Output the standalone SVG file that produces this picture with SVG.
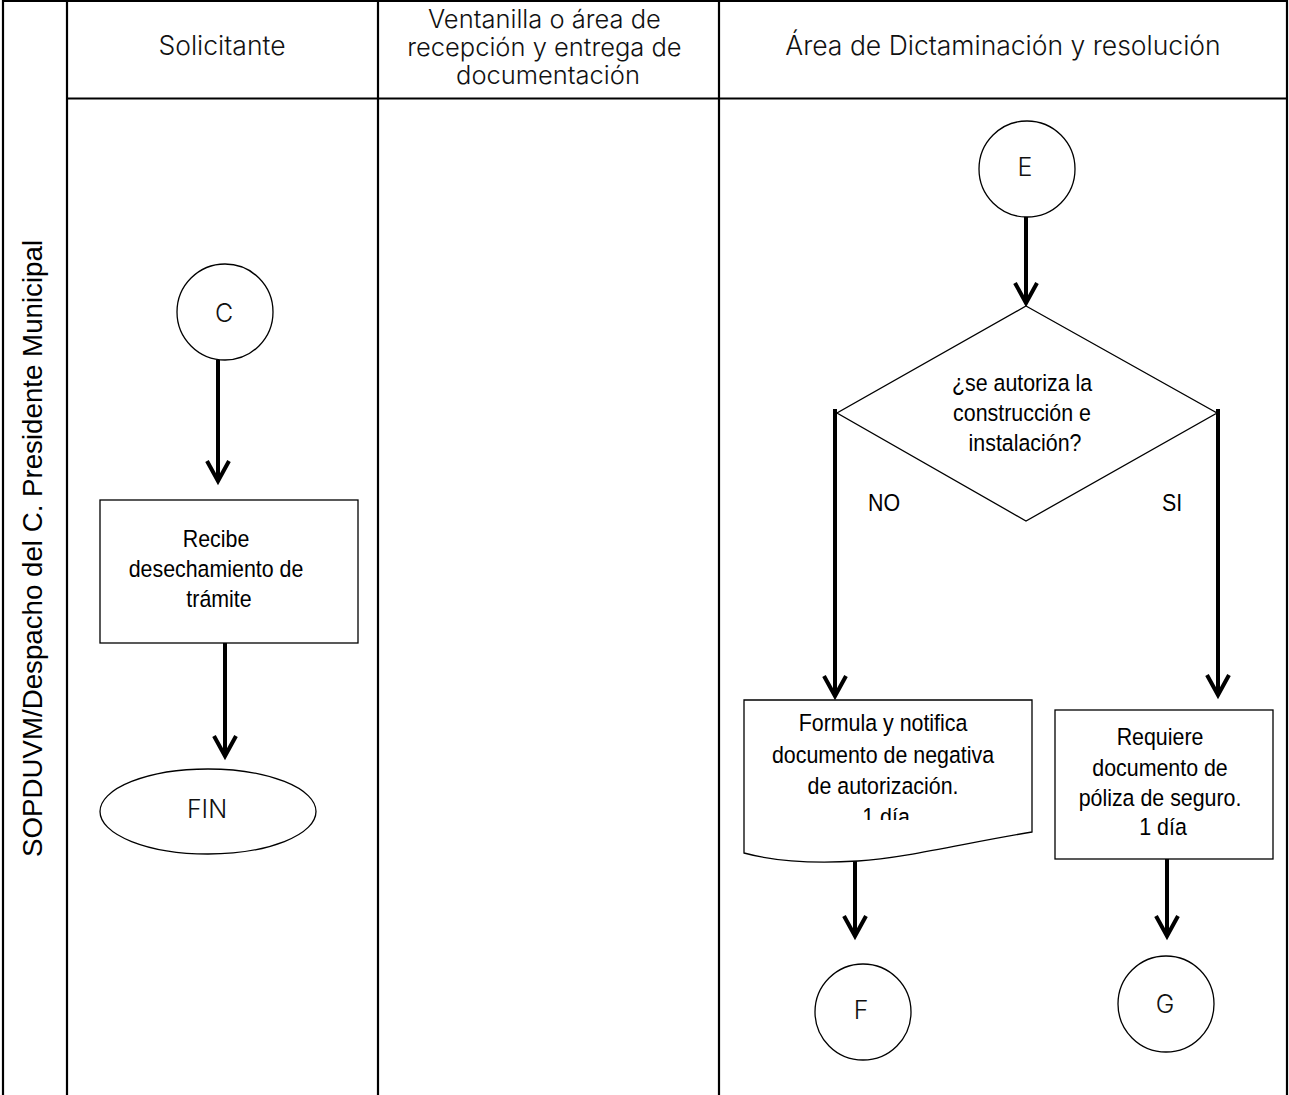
<svg xmlns="http://www.w3.org/2000/svg" width="1289" height="1095" viewBox="0 0 1289 1095">
  <style>
    .lane { fill: none; stroke: #000; stroke-width: 2.2; }
    .shape { fill: #fff; stroke: #000; stroke-width: 1.3; }
    .conn { fill: none; stroke: #000; stroke-width: 4; }
    .head { font-family: Inter, "Noto Sans", sans-serif; font-size: 26.5px; font-weight: 300; fill: #111; text-anchor: middle; }
    .head3 { font-family: Inter, "Noto Sans", sans-serif; font-size: 25.5px; font-weight: 300; fill: #111; text-anchor: middle; }
    .tag { font-family: Inter, "Noto Sans", sans-serif; font-size: 25px; font-weight: 300; fill: #111; text-anchor: middle; }
    .lbl { font-family: "Liberation Sans", Arial, sans-serif; font-size: 23.5px; fill: #000; text-anchor: middle; }
    .side { font-family: "Liberation Sans", Arial, sans-serif; font-size: 27.7px; fill: #000; text-anchor: middle; }
  </style>
  <defs>
    <marker id="arrow" markerUnits="userSpaceOnUse" markerWidth="30" markerHeight="30" viewBox="-25 -15 30 30" refX="0" refY="0" orient="auto" overflow="visible">
      <path d="M-20,-11 L0,0 L-20,11" fill="none" stroke="#000" stroke-width="4"/>
    </marker>
    <clipPath id="docClip">
      <rect x="744" y="700" width="288" height="120"/>
    </clipPath>
  </defs>

  <rect width="1289" height="1095" fill="#fff"/>

  <!-- swimlane grid -->
  <g id="lanes">
    <line class="lane" x1="3" y1="1" x2="1288" y2="1"/>
    <line class="lane" x1="3" y1="0" x2="3" y2="1095"/>
    <line class="lane" x1="67" y1="0" x2="67" y2="1095"/>
    <line class="lane" x1="378" y1="0" x2="378" y2="1095"/>
    <line class="lane" x1="719" y1="0" x2="719" y2="1095"/>
    <line class="lane" x1="1287" y1="0" x2="1287" y2="1095"/>
    <line class="lane" x1="67" y1="98.5" x2="1288" y2="98.5"/>
  </g>

  <!-- lane headers -->
  <g id="headers">
    <text class="head" x="222" y="55">Solicitante</text>
    <text class="head3">
      <tspan x="548" y="28">Ventanilla o área de</tspan>
      <tspan x="548" y="56">recepción y entrega de</tspan>
      <tspan x="548" y="84">documentación</tspan>
    </text>
    <text class="head" x="1003" y="55">Área de Dictaminación y resolución</text>
    <text class="side" transform="translate(42,548.5) rotate(-90)">SOPDUVM/Despacho del C. Presidente Municipal</text>
  </g>

  <!-- connectors -->
  <g id="connectors">
    <line class="conn" x1="218" y1="360" x2="218" y2="481" marker-end="url(#arrow)"/>
    <line class="conn" x1="225" y1="640" x2="225" y2="756" marker-end="url(#arrow)"/>
    <line class="conn" x1="1026" y1="212" x2="1026" y2="303" marker-end="url(#arrow)"/>
    <line class="conn" x1="835" y1="409" x2="835" y2="696" marker-end="url(#arrow)"/>
    <line class="conn" x1="1218" y1="409" x2="1218" y2="695" marker-end="url(#arrow)"/>
    <line class="conn" x1="855" y1="850" x2="855" y2="936" marker-end="url(#arrow)"/>
    <line class="conn" x1="1167" y1="842" x2="1167" y2="936" marker-end="url(#arrow)"/>
    <text class="lbl" transform="translate(884,0) scale(0.91,1)" x="0" y="511">NO</text>
    <text class="lbl" transform="translate(1172,0) scale(0.91,1)" x="0" y="511">SI</text>
  </g>

  <!-- connector C -->
  <g id="node-c">
    <circle class="shape" cx="225" cy="312" r="48"/>
    <text class="tag" x="224" y="322">C</text>
  </g>

  <!-- receive rejection -->
  <g id="node-recibe">
    <rect class="shape" x="100" y="500" width="258" height="143"/>
    <text class="lbl" transform="translate(219,0) scale(0.91,1)">
      <tspan x="0" y="547">Recibe</tspan>
      <tspan x="0" y="577">desechamiento de</tspan>
      <tspan x="0" y="607">trámite</tspan>
    </text>
  </g>

  <!-- end terminator -->
  <g id="node-fin">
    <ellipse class="shape" cx="208" cy="811.5" rx="108" ry="42.5"/>
    <text class="tag" x="207" y="818">FIN</text>
  </g>

  <!-- connector E -->
  <g id="node-e">
    <circle class="shape" cx="1027" cy="169" r="48"/>
    <text class="tag" x="1025" y="176">E</text>
  </g>

  <!-- decision -->
  <g id="node-decision">
    <polygon class="shape" points="1026,306 1217,413 1026,521 837,413"/>
    <text class="lbl" transform="translate(1025,0) scale(0.91,1)">
      <tspan x="0" y="391">¿se autoriza la</tspan>
      <tspan x="0" y="421">construcción e</tspan>
      <tspan x="0" y="451">instalación?</tspan>
    </text>
  </g>

  <!-- rejection document -->
  <g id="node-negativa">
    <path class="shape" d="M744,700 H1032 V832 C970,842 905,858 858,861 C810,864 770,860 744,853 Z"/>
    <g clip-path="url(#docClip)">
      <text class="lbl" transform="translate(886,0) scale(0.91,1)">
        <tspan x="0" y="731">Formula y notifica</tspan>
        <tspan x="0" y="763">documento de negativa</tspan>
        <tspan x="0" y="794">de autorización.</tspan>
        <tspan x="0" y="825">1 día</tspan>
      </text>
    </g>
  </g>

  <!-- insurance policy request -->
  <g id="node-poliza">
    <rect class="shape" x="1055" y="710" width="218" height="149"/>
    <text class="lbl" transform="translate(1163,0) scale(0.91,1)">
      <tspan x="0" y="745">Requiere</tspan>
      <tspan x="0" y="776">documento de</tspan>
      <tspan x="0" y="806">póliza de seguro.</tspan>
      <tspan x="0" y="835">1 día</tspan>
    </text>
  </g>

  <!-- connector F -->
  <g id="node-f">
    <circle class="shape" cx="863" cy="1012" r="48"/>
    <text class="tag" x="861" y="1019">F</text>
  </g>

  <!-- connector G -->
  <g id="node-g">
    <circle class="shape" cx="1166" cy="1004" r="48"/>
    <text class="tag" x="1165" y="1013">G</text>
  </g>
</svg>
